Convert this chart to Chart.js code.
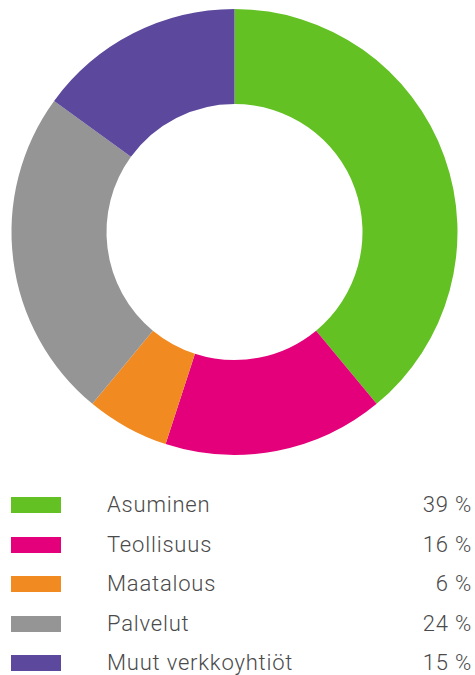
<!DOCTYPE html>
<html lang="fi">
<head>
    <meta charset="UTF-8">
    <title>Sähkönkulutus</title>
    <script src="https://cdn.jsdelivr.net/npm/chart.js"></script>
    <style>
        body {
            margin: 0;
            background: #fff;
            font-family: Roboto, Arial, sans-serif;
            width: 475px;
            height: 675px;
            overflow: hidden;
        }
        .chart-wrap {
            position: relative;
            width: 475px;
            height: 464px;
        }
        .legend {
            list-style: none;
            margin: 0;
            padding: 0;
            position: absolute;
            top: 485px;
            left: 0;
            width: 475px;
        }
        .legend li {
            position: relative;
            height: 39.5px;
            color: #4a4a4a;
            font-size: 22px;
            font-weight: 300;
            letter-spacing: 0.8px;
        }
        .legend .swatch {
            position: absolute;
            left: 11px;
            top: 12px;
            width: 50px;
            height: 16px;
        }
        .legend .label {
            position: absolute;
            left: 107px;
            top: 7px;
        }
        .legend .value {
            position: absolute;
            right: 3px;
            top: 7px;
        }
    </style>
</head>
<body>
    <div class="chart-wrap">
        <canvas id="donut"></canvas>
    </div>
    <ul class="legend" id="legend"></ul>

    <script>
        const categories = ['Asuminen', 'Teollisuus', 'Maatalous', 'Palvelut', 'Muut verkkoyhtiöt'];
        const shares = [39, 16, 6, 24, 15];
        const colors = ['#63c124', '#e4007a', '#f28a22', '#959595', '#5c489c'];

        new Chart(document.getElementById('donut'), {
            type: 'doughnut',
            data: {
                labels: categories,
                datasets: [{
                    data: shares,
                    backgroundColor: colors,
                    borderWidth: 0
                }]
            },
            options: {
                responsive: true,
                maintainAspectRatio: false,
                animation: false,
                cutout: '57.4%',
                layout: {
                    padding: { left: 8, right: 14, top: 9, bottom: 9 }
                },
                plugins: {
                    legend: { display: false },
                    tooltip: { enabled: false }
                }
            }
        });

        // legend built from the same arrays
        const legend = document.getElementById('legend');
        categories.forEach((name, i) => {
            const li = document.createElement('li');
            li.innerHTML = '<span class="swatch" style="background:' + colors[i] + '"></span>' +
                '<span class="label">' + name + '</span>' +
                '<span class="value">' + shares[i] + ' %</span>';
            legend.appendChild(li);
        });
    </script>
</body>
</html>
